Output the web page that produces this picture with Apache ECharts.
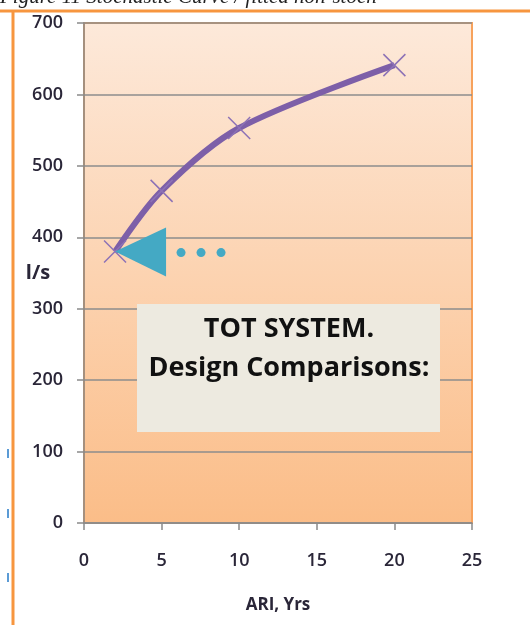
<!DOCTYPE html>
<html>
<head>
<meta charset="utf-8">
<script src="https://cdn.jsdelivr.net/npm/echarts@6/dist/echarts.min.js"></script>
<style>
  html, body { margin: 0; padding: 0; background: #fff; }
  #chart { width: 530px; height: 625px; }
</style>
</head>
<body>
<div id="chart"></div>
<script>
// data
var ariYears = [2, 5, 10, 20];
var flowLps = [380, 465, 553, 641];
var yTicks = [0, 100, 200, 300, 400, 500, 600, 700];
var xTicks = [0, 5, 10, 15, 20, 25];
var boxLines = ['TOT SYSTEM.', 'Design Comparisons:'];
var caption = 'Figure 11 Stochastic Curve / fitted non-stoch';

var points = ariYears.map(function (x, i) { return [x, flowLps[i]]; });
var labelColor = '#2a2638';
var fontFam = '"Open Sans", "Liberation Sans", sans-serif';

var chart = echarts.init(document.getElementById('chart'));

var option = {
    backgroundColor: '#fff',
    animation: false,
    grid: {
        left: 84, right: 58, top: 23, bottom: 102,
        show: true,
        borderColor: '#f7a25c',
        borderWidth: 2,
        backgroundColor: {
            type: 'linear', x: 0, y: 0, x2: 0, y2: 1,
            colorStops: [
                { offset: 0, color: '#fde9da' },
                { offset: 1, color: '#fbbd88' }
            ]
        }
    },
    xAxis: {
        type: 'value',
        min: xTicks[0], max: xTicks[xTicks.length - 1], interval: 5,
        name: 'ARI, Yrs',
        nameLocation: 'middle',
        nameMoveOverlap: false,
        nameGap: 82,
        nameTextStyle: { fontFamily: fontFam, fontWeight: 'bold', fontSize: 17, color: labelColor, verticalAlign: 'middle' },
        axisLine: { show: true, lineStyle: { color: '#8a8a8a', width: 1.5 } },
        axisTick: { show: true, length: 7, lineStyle: { color: '#8a8a8a', width: 1.5 } },
        axisLabel: { margin: 29, fontFamily: fontFam, fontSize: 18, fontWeight: 600, color: labelColor },
        splitLine: { show: false }
    },
    yAxis: {
        type: 'value',
        min: yTicks[0], max: yTicks[yTicks.length - 1], interval: 100,
        name: 'l/s',
        nameLocation: 'middle',
        nameMoveOverlap: false,
        nameRotate: 0,
        nameGap: 46,
        nameTextStyle: { fontFamily: fontFam, fontWeight: 'bold', fontSize: 20, color: labelColor, align: 'center', verticalAlign: 'middle' },
        axisLine: { show: true, lineStyle: { color: '#8a8a8a', width: 1.5 } },
        axisTick: { show: true, length: 7, lineStyle: { color: '#8a8a8a', width: 1.5 } },
        axisLabel: { margin: 21, fontFamily: fontFam, fontSize: 18, fontWeight: 600, color: labelColor },
        splitLine: { show: true, lineStyle: { color: '#8c8c8c', width: 1.5 } }
    },
    series: [{
        type: 'line',
        data: points,
        smooth: 0.3,
        lineStyle: { color: '#7d5fa8', width: 6 },
        symbol: 'path://M0,0L10,10M10,0L0,10',
        symbolSize: 22,
        itemStyle: { color: 'none', borderColor: '#8d72b6', borderWidth: 1.5 },
        z: 3
    }]
};
chart.setOption(option);

// annotation arrow anchored at the first point
var p0 = chart.convertToPixel('grid', points[0]);
var tipX = p0[0], tipY = p0[1];
var gfx = [
    { type: 'text', left: 0, top: -13, style: { text: caption, font: 'italic 21px "Liberation Serif", serif', fill: '#222' } },
    { type: 'line', shape: { x1: 0, y1: 11, x2: 530, y2: 11 }, style: { stroke: '#f7963f', lineWidth: 3 } },
    { type: 'line', shape: { x1: 13, y1: 10, x2: 13, y2: 625 }, style: { stroke: '#f7963f', lineWidth: 3 } },
    { type: 'rect', shape: { x: 7, y: 449, width: 2, height: 9 }, style: { fill: '#5b9bd5' } },
    { type: 'rect', shape: { x: 7, y: 509, width: 2, height: 9 }, style: { fill: '#5b9bd5' } },
    { type: 'rect', shape: { x: 7, y: 573, width: 2, height: 9 }, style: { fill: '#5b9bd5' } },
    { type: 'polygon', z: 10, shape: { points: [[tipX, tipY], [tipX + 51, tipY - 24], [tipX + 51, tipY + 25]] }, style: { fill: '#44a9c4' } },
    { type: 'circle', z: 10, shape: { cx: tipX + 66, cy: tipY + 1, r: 4.5 }, style: { fill: '#44a9c4' } },
    { type: 'circle', z: 10, shape: { cx: tipX + 86, cy: tipY + 1, r: 4.5 }, style: { fill: '#44a9c4' } },
    { type: 'circle', z: 10, shape: { cx: tipX + 106, cy: tipY + 1, r: 4.5 }, style: { fill: '#44a9c4' } },
    { type: 'rect', z: 10, shape: { x: 137, y: 304, width: 303, height: 128 }, style: { fill: '#edeae0' } },
    { type: 'text', z: 11, x: 289, y: 329, style: { text: boxLines[0], font: 'bold 27px "Open Sans", sans-serif', fill: '#111', align: 'center', verticalAlign: 'middle' } },
    { type: 'text', z: 11, x: 289, y: 368, style: { text: boxLines[1], font: 'bold 27px "Open Sans", sans-serif', fill: '#111', align: 'center', verticalAlign: 'middle' } }
];
chart.setOption({ graphic: gfx });
</script>
</body>
</html>
